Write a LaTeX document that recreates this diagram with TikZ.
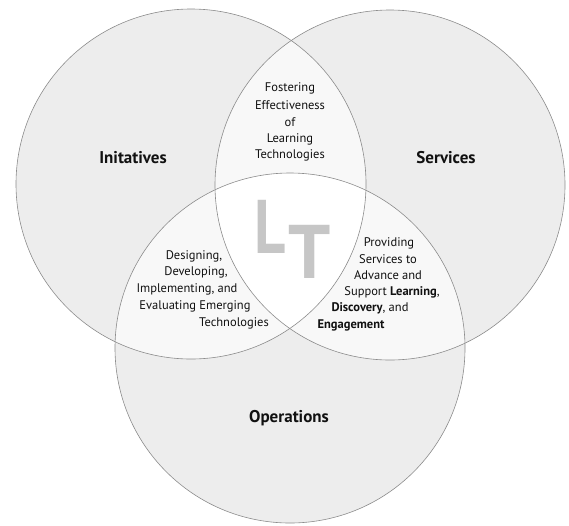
\documentclass[tikz,border=0pt]{standalone}
\usepackage{fontspec}
\setmainfont{PT Sans}
\definecolor{outer}{HTML}{EDEDED}
\definecolor{lens}{HTML}{F8F8F8}
\definecolor{edge}{HTML}{8C8C8C}
\definecolor{ltgray}{HTML}{C6C6C6}
\definecolor{ink}{HTML}{111111}
\begin{document}
\begin{tikzpicture}[x=1pt,y=-1pt,
  ring/.style={draw=edge,line width=0.6pt},
  big/.style={font=\fontsize{17}{20}\selectfont\bfseries,text=ink,inner sep=0pt},
  small/.style={font=\fontsize{12.5}{16.8}\selectfont,text=ink,inner sep=0pt,anchor=center},
  lt/.style={font=\fontsize{76}{76}\selectfont\bfseries,text=ltgray,inner sep=0pt}]
\useasboundingbox (0,0) rectangle (569,525);
\def\R{175}
\coordinate (cL) at (191,184);
\coordinate (cR) at (390,185);
\coordinate (cB) at (290,348);
% base fills
\fill[outer] (cL) circle (\R);
\fill[outer] (cR) circle (\R);
\fill[outer] (cB) circle (\R);
% pairwise lenses
\begin{scope}\clip (cL) circle (\R); \fill[lens] (cR) circle (\R); \fill[lens] (cB) circle (\R);\end{scope}
\begin{scope}\clip (cR) circle (\R); \fill[lens] (cB) circle (\R);\end{scope}
% center
\begin{scope}\clip (cL) circle (\R); \clip (cR) circle (\R); \fill[white] (cB) circle (\R);\end{scope}
% outlines
\draw[ring] (cL) circle (\R);
\draw[ring] (cR) circle (\R);
\draw[ring] (cB) circle (\R);
% LT
\node[lt,anchor=base west] (LT) at (254,253) {\scalebox{0.8}[1]{L}\kern3pt\raisebox{-25pt}{\scalebox{0.98}[1]{T}}};
% main labels
\node[big] (ini) at (133,158) {Initatives};
\node[big] (ser) at (446,158) {Services};
\node[big] (ope) at (289,418) {Operations};
% top lens
\node[small] (f1) at (290,88) {Fostering};
\node[small] (f2) at (290,105) {Effectiveness};
\node[small] (f3) at (290,122) {of};
\node[small] (f4) at (290,139) {Learning};
\node[small] (f5) at (290,155) {Technologies};
% left lens
\node[small] (d1) at (194,256) {Designing,};
\node[small] (d2) at (196,272) {Developing,};
\node[small] (d3) at (187,289) {Implementing, and};
\node[small] (d4) at (195,306) {Evaluating Emerging};
\node[small] (d5) at (234,323) {Technologies};
% right lens
\node[small] (p1) at (389,243) {Providing};
\node[small] (p2) at (388,259) {Services to};
\node[small] (p3) at (388,275) {Advance and};
\node[small] (p4) at (392,292) {Support \textbf{Learning},};
\node[small] (p5) at (370,308) {\textbf{Discovery}, and};
\node[small] (p6) at (351,325) {\textbf{Engagement}};
\end{tikzpicture}
\end{document}
